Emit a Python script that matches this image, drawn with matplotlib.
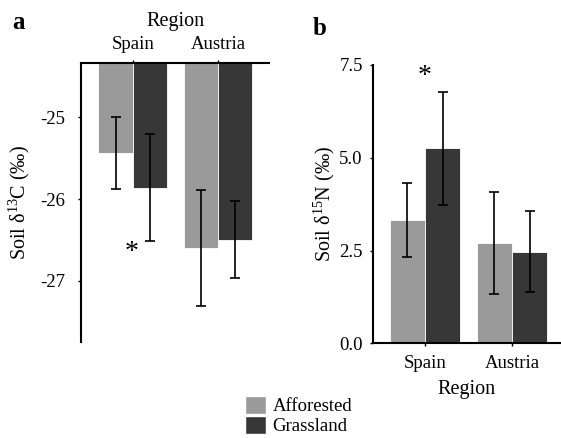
import numpy as np
import matplotlib
matplotlib.use("Agg")
import matplotlib.pyplot as plt
from matplotlib.patches import Patch

plt.rcParams['font.family'] = ['Liberation Serif', 'DejaVu Serif']
plt.rcParams['mathtext.fontset'] = 'custom'
plt.rcParams['mathtext.rm'] = 'Liberation Serif'

# Data
regions = ["Spain", "Austria"]
groups = ["Afforested", "Grassland"]
colors = ["#9a9a9a", "#373737"]

d13c_afforested = [-25.44, -26.60]
d13c_grassland = [-25.86, -26.50]
d13c_err_afforested = [0.44, 0.71]
d13c_err_grassland = [0.66, 0.47]

d15n_afforested = [3.32, 2.70]
d15n_grassland = [5.26, 2.47]
d15n_err_afforested = [0.99, 1.38]
d15n_err_grassland = [1.52, 1.10]

d13c_yticks = [-25, -26, -27]
d15n_yticks = [0.0, 2.5, 5.0, 7.5]

fig = plt.figure(figsize=(5.61, 4.38), dpi=100)
ax_a = fig.add_axes([0.1444, 0.2192, 0.3351, 0.637])
ax_b = fig.add_axes([0.6654, 0.2162, 0.3326, 0.6354])

x = np.arange(len(regions))
w = 0.405
err_kw = dict(ecolor="black", elinewidth=1.2, capsize=3.6, capthick=1.2)


def draw_bars(ax, aff, gra, eaff, egra):
    ax.bar(x - w / 2, aff, w, color=colors[0], edgecolor="white", linewidth=0.6,
           yerr=eaff, error_kw=err_kw, label=groups[0])
    ax.bar(x + w / 2, gra, w, color=colors[1], edgecolor="white", linewidth=0.6,
           yerr=egra, error_kw=err_kw, label=groups[1])


# Panel a: bars hang from the top axis
draw_bars(ax_a, d13c_afforested, d13c_grassland, d13c_err_afforested, d13c_err_grassland)
ax_a.set_ylim(-27.75, -24.335)
ax_a.set_xlim(-0.61, 1.6)
ax_a.spines["right"].set_visible(False)
ax_a.spines["bottom"].set_visible(False)
for s in ["left", "top"]:
    ax_a.spines[s].set_linewidth(1.5)
ax_a.xaxis.tick_top()
ax_a.xaxis.set_label_position("top")
ax_a.set_xticks(x)
ax_a.set_xticklabels(regions, fontsize=13.5)
ax_a.set_xlabel("Region", fontsize=14.5, labelpad=7)
ax_a.set_yticks(d13c_yticks)
ax_a.set_yticklabels([str(v) for v in d13c_yticks], fontsize=13.5)
ax_a.tick_params(axis="x", length=2.5, width=1, pad=5)
ax_a.tick_params(axis="y", length=2.5, width=1, pad=9)
ax_a.set_ylabel("Soil δ$^{13}$C (‰)", fontsize=14.5, labelpad=6)
ax_a.text(-0.01, -26.66, "*", ha="center", va="center", fontsize=20)
fig.text(0.022, 0.948, "a", fontsize=18, fontweight="bold", va="center")

# Panel b
draw_bars(ax_b, d15n_afforested, d15n_grassland, d15n_err_afforested, d15n_err_grassland)
ax_b.set_ylim(0, 7.5)
ax_b.set_xlim(-0.595, 1.55)
ax_b.spines["right"].set_visible(False)
ax_b.spines["top"].set_visible(False)
for s in ["left", "bottom"]:
    ax_b.spines[s].set_linewidth(1.5)
ax_b.set_xticks(x)
ax_b.set_xticklabels(regions, fontsize=13.5)
ax_b.set_xlabel("Region", fontsize=14.5, labelpad=6)
ax_b.set_yticks(d15n_yticks)
ax_b.set_yticklabels([f"{v:.1f}" for v in d15n_yticks], fontsize=13.5)
ax_b.tick_params(axis="x", length=2.5, width=1, pad=6)
ax_b.tick_params(axis="y", length=2.5, width=1, pad=5)
ax_b.set_ylabel("Soil δ$^{15}$N (‰)", fontsize=14.5, labelpad=1.5)
ax_b.text(0.0, 7.2, "*", ha="center", va="center", fontsize=20)
fig.text(0.558, 0.935, "b", fontsize=18, fontweight="bold", va="center")

# Legend
handles = [Patch(facecolor=c, edgecolor="white") for c in colors]
fig.legend(handles, groups, loc="lower left", bbox_to_anchor=(0.414, -0.024),
           frameon=False, fontsize=13.5, handlelength=1.1, handleheight=1.1,
           handletextpad=0.35, labelspacing=0.05, borderpad=0.2)

fig.savefig("out.png", dpi=100)
